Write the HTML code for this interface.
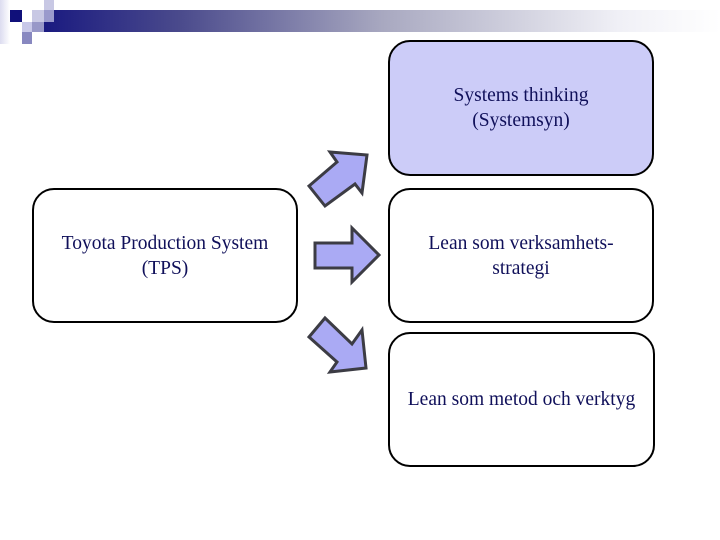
<!DOCTYPE html>
<html><head><meta charset="utf-8"><style>
body{margin:0;width:720px;height:540px;background:#fff;position:relative;overflow:hidden;font-family:"Liberation Serif",serif;}
.sq{position:absolute}
.bar{position:absolute;left:44px;top:10px;width:676px;height:22px;background:linear-gradient(to right,#1a1a80 0%,#4a4a8c 20%,#a8a8c0 50%,#f0f0f6 85%,#fff 100%);}
.box{position:absolute;box-sizing:border-box;border:2.5px solid #000;border-radius:22px;background:#fff;display:flex;align-items:center;justify-content:center;text-align:center;font-size:19.5px;line-height:25px;color:#10105a;}
</style></head><body>
<div class="sq" style="left:0;top:0;width:10px;height:44px;background:linear-gradient(to right,#dcdcf0,#fff)"></div>
<div class="bar"></div>
<div class="sq" style="left:10px;top:10px;width:12px;height:12px;background:#10107a"></div>
<div class="sq" style="left:32px;top:10px;width:12px;height:12px;background:#c8c8e4"></div>
<div class="sq" style="left:44px;top:0;width:10px;height:10px;background:#c8c8e4"></div>
<div class="sq" style="left:44px;top:10px;width:10px;height:12px;background:#9a9acc"></div>
<div class="sq" style="left:22px;top:22px;width:10px;height:10px;background:#c8c8e8"></div>
<div class="sq" style="left:32px;top:22px;width:12px;height:10px;background:#9898c8"></div>
<div class="sq" style="left:22px;top:32px;width:10px;height:12px;background:#8888c0"></div>

<div class="box" style="left:388px;top:40px;width:266px;height:136px;background:#ccccf8;">Systems thinking<br>(Systemsyn)</div>
<div class="box" style="left:388px;top:188px;width:266px;height:135px;">Lean som verksamhets-<br>strategi</div>
<div class="box" style="left:388px;top:332px;width:267px;height:135px;">Lean som metod och verktyg</div>
<div class="box" style="left:32px;top:188px;width:266px;height:135px;">Toyota Production System<br>(TPS)</div>

<svg width="720" height="540" style="position:absolute;left:0;top:0">
<g fill="#aaaaf4" stroke="#3c3c44" stroke-width="3" stroke-linejoin="miter">
<polygon points="309,186 337,162 330,152 367,155 362,193 355,184 325,206"/>
<polygon points="315,243 352,243 352,228 379,255 352,282 352,268 315,268"/>
<polygon points="325,318 352,344 362,330 366,368 330,372 337,362 309,337"/>
</g></svg>
</body></html>
